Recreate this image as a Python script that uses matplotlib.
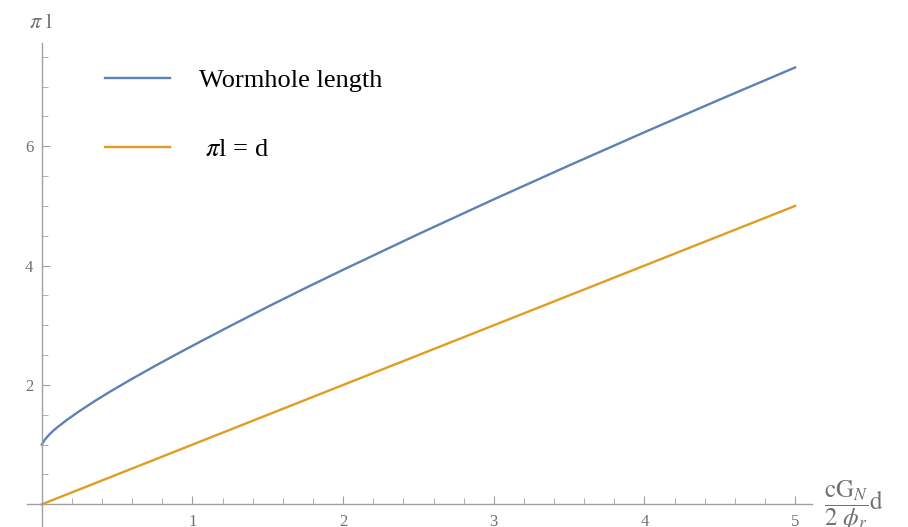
import numpy as np
import matplotlib.pyplot as plt
from matplotlib.ticker import MultipleLocator, FixedLocator

# curve
d_vals = [0, 0.02, 0.05, 0.075, 0.1, 0.164, 0.25, 0.35, 0.452, 0.6, 0.75,
          0.9, 1.05, 1.25, 1.5, 1.75, 2.0, 2.5, 3.0, 3.5, 4.0, 4.5, 5.0]
worm_len = [1.0, 1.082, 1.169, 1.23, 1.284, 1.409, 1.562, 1.728, 1.886, 2.104,
            2.316, 2.522, 2.723, 2.987, 3.31, 3.624, 3.93, 4.528, 5.11, 5.678,
            6.235, 6.783, 7.32]
line_d = [0, 5]
line_pl = [0, 5]

x_ticks = [1, 2, 3, 4, 5]
y_ticks = [2, 4, 6]

plt.rcParams['mathtext.fontset'] = 'stix'
plt.rcParams['font.family'] = ['Liberation Serif', 'DejaVu Serif']

fig = plt.figure(figsize=(9.08, 5.27), dpi=100)
ax = fig.add_axes([26.7 / 908, 0, 785 / 908, 484 / 527])

blue = '#5e81b5'
orange = '#e19c24'
ax.plot(d_vals, worm_len, color=blue, lw=1.7, label='Wormhole length')
ax.plot(line_d, line_pl, color=orange, lw=1.7, label=r' $\pi$l = d')

ax.set_xlim(-0.10, 5.11)
ax.set_ylim(-0.38, 7.73)

for s in ['top', 'right']:
    ax.spines[s].set_visible(False)
ax.spines['left'].set_position(('data', 0))
ax.spines['bottom'].set_position(('data', 0))
for s in ['left', 'bottom']:
    ax.spines[s].set_color('#a0a0a0')
    ax.spines[s].set_linewidth(1.0)

ax.xaxis.set_major_locator(FixedLocator(x_ticks))
ax.yaxis.set_major_locator(FixedLocator(y_ticks))
ax.xaxis.set_minor_locator(MultipleLocator(0.2))
ax.yaxis.set_minor_locator(MultipleLocator(0.5))
ax.tick_params(which='both', direction='in', color='#a0a0a0', labelcolor='#707070',
               labelsize=12)
ax.tick_params(which='major', length=6, width=0.8)
ax.tick_params(which='minor', length=4, width=0.6)
ax.tick_params(axis='x', which='major', pad=7)
ax.tick_params(axis='y', which='major', pad=6)

fig.text(41 / 908, 1 - 24 / 527, r'$\pi$ l', color='#707070', fontsize=16,
         ha='center', va='center')
fig.text(824 / 908, 1 - 506 / 527, r'$\dfrac{\mathrm{cG}_N}{2\ \phi_r}\mathrm{d}$',
         color='#707070', fontsize=18, ha='left', va='center')

ax.legend(loc='upper left', bbox_to_anchor=(105 / 908, 1 - 69 / 527),
          bbox_transform=fig.transFigure, frameon=False, fontsize=19,
          handlelength=2.45, handletextpad=1.1, labelspacing=1.72,
          borderpad=0, borderaxespad=0)

fig.savefig('out.png', dpi=100)
